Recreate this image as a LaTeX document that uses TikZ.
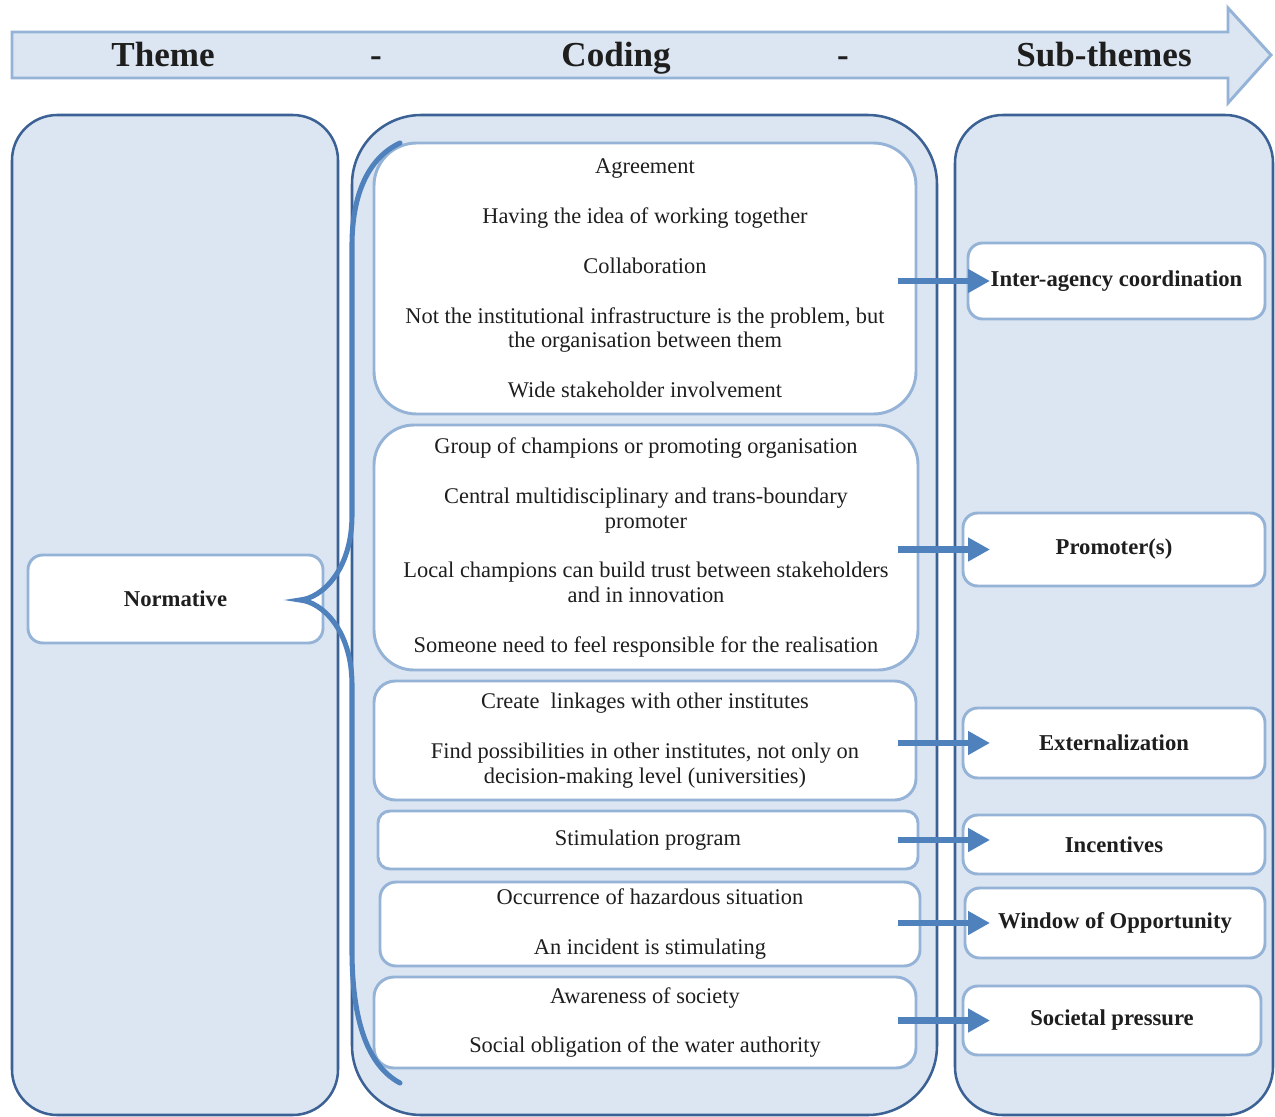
\documentclass[tikz,border=0pt]{standalone}
\usepackage{fontspec}
\setmainfont{Liberation Serif}
\usetikzlibrary{arrows.meta}
\definecolor{panelfill}{HTML}{DCE6F2}
\definecolor{paneledge}{HTML}{3C6194}
\definecolor{boxedge}{HTML}{95B3D7}
\definecolor{flowblue}{HTML}{4F81BD}
\definecolor{ink}{HTML}{1E1E1E}
\newcommand\skipline{\\[19pt]}

\begin{document}
\begin{tikzpicture}[x=0.75pt,y=-0.75pt,
  panel/.style={draw=paneledge, line width=1.9pt, fill=panelfill, rounded corners=#1, inner sep=0pt},
  codebox/.style={draw=boxedge, line width=2.2pt, fill=white, rounded corners=#1, inner sep=0pt,
    align=center, text=ink, font=\fontsize{16.8}{18.4}\selectfont},
  subbox/.style={draw=boxedge, line width=2.2pt, fill=white, rounded corners=11pt, inner sep=0pt,
    text=ink, font=\fontsize{17}{19}\selectfont\bfseries},
  heading/.style={text=ink, font=\fontsize{26.3}{29}\selectfont\bfseries, inner sep=0pt, anchor=base},
  flow/.style={draw=flowblue, line width=5pt, -{Triangle[length=16.5pt,width=17pt]}},
  brace/.style={draw=flowblue, line width=3.8pt, line cap=round}
]
\useasboundingbox (0,0) rectangle (1275,1117);

% heading arrow
\path[draw=boxedge, line width=2.2pt, fill=panelfill, line join=miter]
  (12,32) -- (1228,32) -- (1228,8) -- (1271,55) -- (1228,103) -- (1228,78) -- (12,78) -- cycle;
\node[heading] (hTheme)  at (163,66)  {Theme};
\node[heading] (hDashA)  at (376,66)  {-};
\node[heading] (hCoding) at (616,66)  {Coding};
\node[heading] (hDashB)  at (843,66)  {-};
\node[heading] (hSub)    at (1104,66) {Sub-themes};

% three columns
\node[panel=34pt, minimum width=244.5pt,  minimum height=750pt] (themeP) at (175,615)   {};
\node[panel=52pt, minimum width=438.75pt, minimum height=750pt] (codeP)  at (644.5,615) {};
\node[panel=36pt, minimum width=238.5pt,  minimum height=750pt] (subP)   at (1114,615)  {};

% theme
\node[subbox, minimum width=221.25pt, minimum height=66pt] (norm) at (175.5,599) {Normative};

% codes
\node[codebox=32pt, minimum width=406.5pt, minimum height=203.25pt] (c1) at (645,278.5)
  {Agreement\skipline Having the idea of working together\skipline Collaboration\skipline
   Not the institutional infrastructure is the problem, but\\ the organisation between them\skipline
   Wide stakeholder involvement};
\node[codebox=30pt, minimum width=408pt, minimum height=183.75pt] (c2) at (646,547.5)
  {Group of champions or promoting organisation\skipline
   Central multidisciplinary and trans-boundary\\ promoter\skipline
   Local champions can build trust between stakeholders\\ and in innovation\skipline
   Someone need to feel responsible for the realisation};
\node[codebox=16pt, minimum width=406.5pt, minimum height=89.25pt] (c3) at (645,740.5)
  {Create\ \ linkages with other institutes\skipline
   Find possibilities in other institutes, not only on\\ decision-making level (universities)};
\node[codebox=9pt, minimum width=405pt, minimum height=43.5pt] (c4) at (648,840)
  {Stimulation program};
\node[codebox=12pt, minimum width=405pt, minimum height=63pt] (c5) at (650,924)
  {Occurrence of hazardous situation\skipline An incident is stimulating};
\node[codebox=15pt, minimum width=406.5pt, minimum height=68.25pt] (c6) at (645,1022.5)
  {Awareness of society\skipline Social obligation of the water authority};

% sub-themes
\node[subbox, minimum width=222.75pt, minimum height=57pt]    (s1) at (1116.5,281)  {Inter-agency coordination};
\node[subbox, minimum width=226.5pt,  minimum height=54.75pt] (s2) at (1114,549.5)  {Promoter(s)};
\node[subbox, minimum width=226.5pt,  minimum height=52.5pt]  (s3) at (1114,743)    {Externalization};
\node[subbox, minimum width=226.5pt,  minimum height=44.25pt] (s4) at (1114,844.5)  {Incentives};
\node[subbox, minimum width=225pt,    minimum height=52.5pt]  (s5) at (1115,923)    {Window of Opportunity};
\node[subbox, minimum width=223.5pt,  minimum height=51.75pt] (s6) at (1112,1020.5) {Societal pressure};

% brace from the theme to its codes
\coordinate (braceTop) at (400,143);
\coordinate (braceTip) at (300,600);
\coordinate (braceBot) at (400,1083);
\draw[brace] (braceTop) .. controls (368,158) and (352,195) .. (352,245) -- (352,515)
  .. controls (352,570) and (322,598) .. (braceTip)
  .. controls (322,602) and (352,630) .. (352,685) -- (352,950)
  .. controls (352,1030) and (372,1068) .. (braceBot);

% codes to sub-themes
\coordinate (tailX) at (898,0);
\coordinate (headX) at (990,0);
\draw[flow] (s1.west -| tailX) -- (s1.west -| headX);
\draw[flow] (s2.west -| tailX) -- (s2.west -| headX);
\draw[flow] (s3.west -| tailX) -- (s3.west -| headX);
\draw[flow] (c4.east -| tailX) -- (c4.east -| headX);
\draw[flow] (s5.west -| tailX) -- (s5.west -| headX);
\draw[flow] (s6.west -| tailX) -- (s6.west -| headX);
\end{tikzpicture}
\end{document}
